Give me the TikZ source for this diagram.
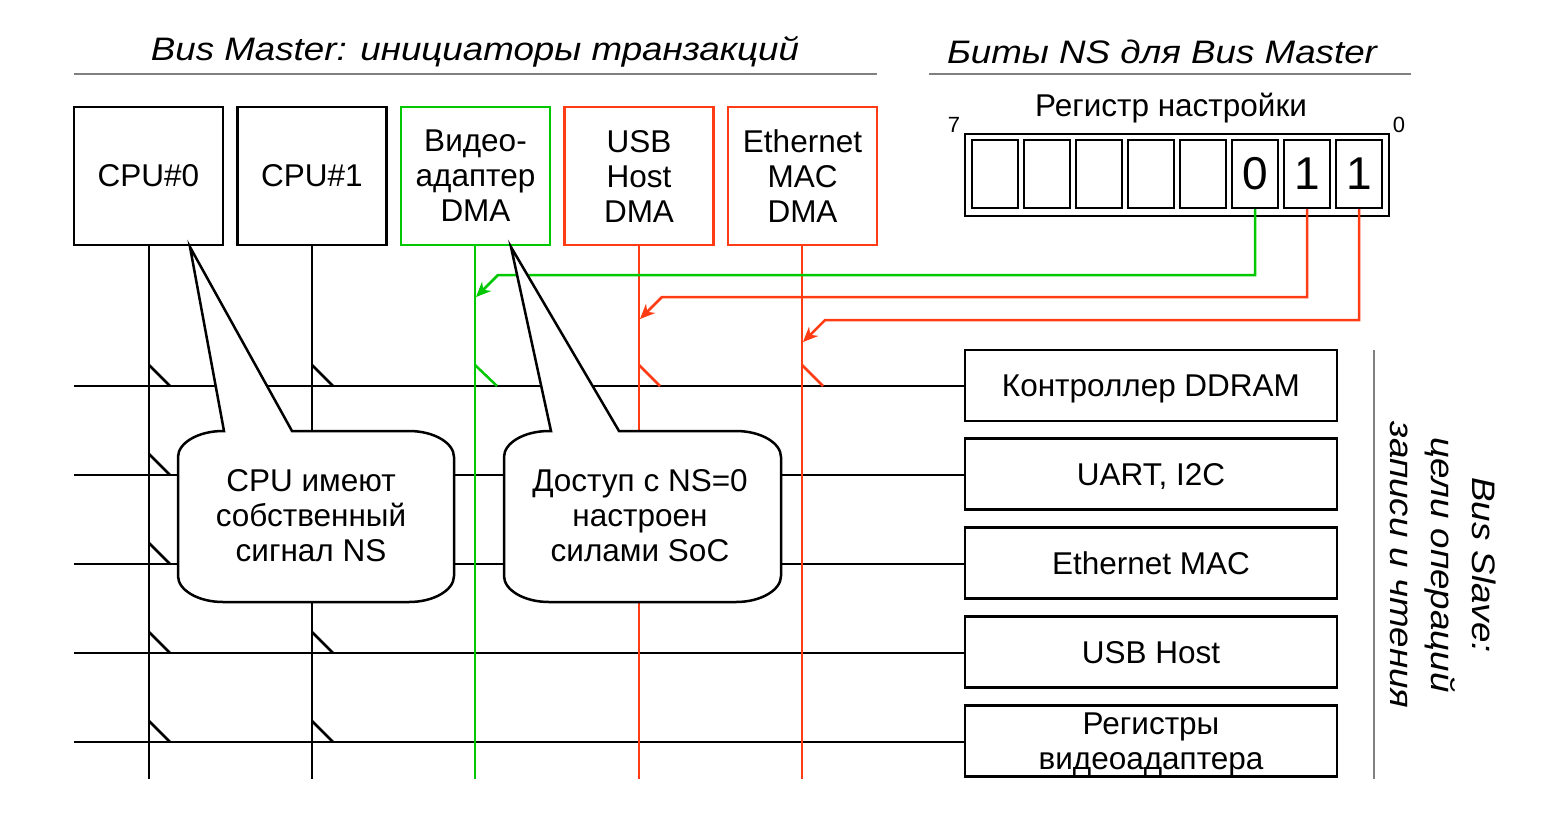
\documentclass[tikz,border=0pt]{standalone}
\usepackage{fontspec}
\setmainfont{Liberation Sans}
\newfontfamily\itfont{Liberation Sans Italic}[FakeStretch=1.13]
\usetikzlibrary{arrows.meta}
\definecolor{gr}{HTML}{00C800}
\definecolor{rd}{HTML}{FF3C14}
\definecolor{gy}{HTML}{808080}
\begin{document}
\begin{tikzpicture}[x=1pt,y=-1pt,
  every node/.style={font=\fontsize{31.5}{35}\selectfont, align=center},
  title/.style={font=\fontsize{32.5}{36}\selectfont\itfont, anchor=base},
  master/.style={draw, line width=2.2pt, minimum width=149pt, minimum height=138pt, inner sep=0pt},
  slavebox/.style={draw, line width=2.2pt, minimum width=372pt, minimum height=71pt, inner sep=0pt, text depth=0pt},
  cell/.style={draw, line width=2.2pt, minimum width=46pt, minimum height=68pt, inner sep=0pt, font=\fontsize{46}{50}\selectfont},
  wire/.style={line width=2.5pt},
  rule/.style={gy, line width=1.5pt},
  callout/.style={draw, fill=white, line width=2.5pt},
  nsarrow/.style={line width=2.5pt, -{Stealth[length=15pt,width=13pt]}},
]
\useasboundingbox (0,0) rectangle (1560,817);

% titles
\node[title] (t1) at (475,60) {Bus Master: инициаторы транзакций};
\node[title] (t2) at (1162,63) {Биты NS для Bus Master};
\coordinate (r1a) at (74,74); \coordinate (r1b) at (877,74);
\coordinate (r2a) at (929,74); \coordinate (r2b) at (1411,74);
\draw[rule] (r1a) -- (r1b);
\draw[rule] (r2a) -- (r2b);

% master boxes
\node[master] (m0) at (148.5,176) {CPU\#0};
\node[master] (m1) at (312,176) {CPU\#1};
\node[master, gr] (m2) at (475.5,176) {\color{black}Видео-\\\color{black}адаптер\\\color{black}DMA};
\node[master, rd] (m3) at (639,176) {\color{black}USB\\\color{black}Host\\\color{black}DMA};
\node[master, rd] (m4) at (802.5,176) {\color{black}Ethernet\\\color{black}MAC\\\color{black}DMA};

% slave boxes
\node[slavebox] (s1) at (1151,385.5) {Контроллер DDRAM};
\node[slavebox] (s2) at (1151,474) {UART, I2C};
\node[slavebox] (s3) at (1151,563) {Ethernet MAC};
\node[slavebox] (s4) at (1151,652) {USB Host};
\node[slavebox] (s5) at (1151,741) {Регистры\\видеоадаптера};

% horizontal buses
\foreach \i/\y in {1/386,2/475,3/564,4/653,5/742}{
  \coordinate (L\i) at (74,\y);
  \draw[wire] (L\i) -- (s\i.west |- L\i);
}

% vertical master lines
\foreach \i/\x/\c in {0/149/black,1/312/black,2/475/gr,3/639/rd,4/802/rd}{
  \coordinate (B\i) at (\x,779);
  \draw[wire,\c] (m\i.south -| B\i) -- (B\i);
}

% taps
\foreach \x in {149,312}{
  \foreach \y in {386,475,564,653,742}{
    \draw[wire] (\x,\y-21) -- (\x+21,\y);
  }
}
\draw[wire,gr] (475,365) -- (497,386);
\draw[wire,rd] (639,365) -- (660,386);
\draw[wire,rd] (802,365) -- (823,386);

% register
\node[draw, line width=2.2pt, minimum width=424pt, minimum height=82pt, inner sep=0pt] (reg) at (1177,175) {};
\foreach \k/\v in {7/,6/,5/,4/,3/,2/0,1/1,0/1}{
  \node[cell] (c\k) at (995+52*7-52*\k,174) {\v};
}
\node[font=\fontsize{31.5}{34}\selectfont] (regt) at (1171,108) {Регистр настройки};
\node[font=\fontsize{22}{26}\selectfont] (b7) at (954,125) {7};
\node[font=\fontsize{22}{26}\selectfont] (b0) at (1399,125) {0};

% NS connectors
\coordinate (g1) at (498,275); \coordinate (g2) at (476,297);
\coordinate (h1) at (662,297); \coordinate (h2) at (640,319);
\coordinate (k1) at (825,320); \coordinate (k2) at (803,342);
\draw[nsarrow,gr] (c2.south) |- (g1) -- (g2);
\draw[nsarrow,rd] (c1.south) |- (h1) -- (h2);
\draw[nsarrow,rd] (c0.south) |- (k1) -- (k2);

% callouts
\draw[callout] (224,431) -- (190,247) -- (292,431) -- (409,431)
  .. controls +(25,0) and +(0,-14) .. (454,457) -- (454,576)
  .. controls +(0,14) and +(25,0) .. (409,602) -- (223,602)
  .. controls +(-25,0) and +(0,14) .. (178,576) -- (178,457)
  .. controls +(0,-14) and +(-25,0) .. (223,431) -- cycle;
\node (n1) at (311,516) {CPU имеют\\собственный\\сигнал NS};

\draw[callout] (551,431) -- (511,247) -- (619,431) -- (736,431)
  .. controls +(25,0) and +(0,-14) .. (781,457) -- (781,576)
  .. controls +(0,14) and +(25,0) .. (736,602) -- (549,602)
  .. controls +(-25,0) and +(0,14) .. (504,576) -- (504,457)
  .. controls +(0,-14) and +(-25,0) .. (549,431) -- cycle;
\node (n2) at (640,516) {Доступ с NS=0\\настроен\\силами SoC};

% bus slave side
\coordinate (v1) at (1374,350); \coordinate (v2) at (1374,779);
\draw[gy, line width=1.5pt] (v1) -- (v2);
\node[rotate=-90, font=\fontsize{32.5}{41}\selectfont\itfont] (bs) at (1443,565) {Bus Slave:\\цели операций\\записи и чтения};
\end{tikzpicture}
\end{document}
